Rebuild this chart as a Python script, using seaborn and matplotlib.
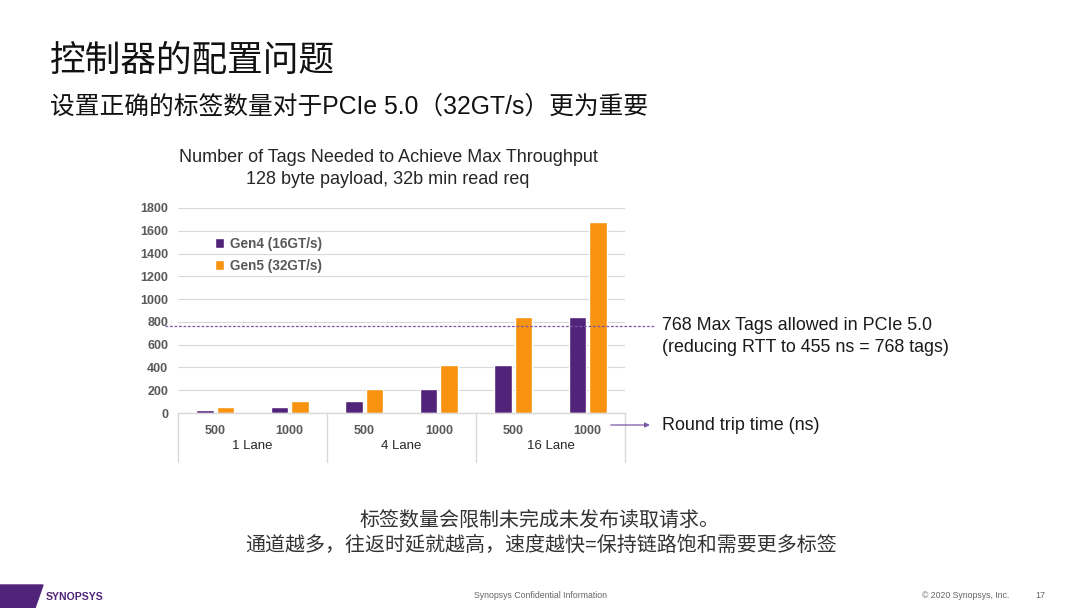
import matplotlib
matplotlib.use('Agg')
import matplotlib.pyplot as plt
import matplotlib.patches as mpatches
import seaborn as sns
import pandas as pd

# chart values
lanes = ['1 Lane', '4 Lane', '16 Lane']
rtt_labels = ['500', '1000']
gen4_tags = [27, 54, 108, 210, 420, 840]
gen5_tags = [54, 108, 210, 420, 840, 1680]
series_names = ['Gen4 (16GT/s)', 'Gen5 (32GT/s)']
max_tags = 768
y_ticks = [0, 200, 400, 600, 800, 1000, 1200, 1400, 1600, 1800]

slots = [f'{lane} {r}' for lane in lanes for r in rtt_labels]
df = pd.DataFrame({
    'slot': slots + slots,
    'tags': gen4_tags + gen5_tags,
    'gen': [series_names[0]] * len(slots) + [series_names[1]] * len(slots),
})

purple = '#51247A'
light_purple = '#7A58A8'
orange = '#F7930F'
grid_gray = '#D9D9D9'
tick_gray = '#595959'

sns.set_style('white')
plt.rcParams['font.family'] = ['Liberation Sans', 'Noto Sans CJK SC', 'DejaVu Sans']

fig = plt.figure(figsize=(10.8, 6.08), dpi=100)
W, H = 1080, 608

def fx(px):
    return px / W

def fy(py):
    return 1 - py / H

ax = fig.add_axes([fx(178), fy(413), fx(625) - fx(178), fy(208) - fy(413)])
sns.barplot(data=df, x='slot', y='tags', hue='gen', order=slots,
            palette=[purple, orange], width=0.55, gap=0.15, ax=ax,
            saturation=1, legend=True)

ax.set_xlim(-0.5, len(slots) - 0.5)
ax.set_ylim(0, 1800)
ax.set_yticks(y_ticks)
ax.set_yticklabels([str(t) for t in y_ticks], fontsize=9, fontweight='bold', color=tick_gray)
ax.set_xticks(range(len(slots)))
ax.set_xticklabels(rtt_labels * len(lanes), fontsize=9, fontweight='bold', color=tick_gray)
ax.tick_params(axis='both', length=0)
ax.tick_params(axis='x', pad=9)
ax.tick_params(axis='y', pad=7)
ax.set_xlabel('')
ax.set_ylabel('')
for s in ax.spines.values():
    s.set_visible(False)
ax.yaxis.grid(True, color=grid_gray, linewidth=0.8)
ax.set_axisbelow(True)

# category box below the axis
box_bottom = (413 - 462) / (413 - 208)
ax.plot([-0.5, len(slots) - 0.5], [0, 0], color=grid_gray, linewidth=1, clip_on=False)
trans = ax.get_xaxis_transform()
for xb in [-0.5, 1.5, 3.5, 5.5]:
    ax.plot([xb, xb], [0, box_bottom], color=grid_gray, linewidth=1,
            transform=trans, clip_on=False)
for i, lane in enumerate(lanes):
    ax.text(2 * i + 0.5, (413 - 446) / (413 - 208), lane, transform=trans,
            ha='center', va='center', fontsize=9.5, color='#262626')

# max tags dashed line
ax.axhline(max_tags, xmin=(165 - 178) / 447, xmax=(655 - 178) / 447,
           color=light_purple, linestyle=(0, (2.2, 1.4)), linewidth=0.9, clip_on=False)

# arrow to round trip label
ax.annotate('', xy=(1.062, -0.0585), xytext=(0.962, -0.0585), xycoords='axes fraction',
            arrowprops=dict(arrowstyle='-|>', color=light_purple, lw=0.9, mutation_scale=7),
            annotation_clip=False)

# legend
leg = ax.legend(loc='upper left', bbox_to_anchor=(0.055, 0.92), frameon=False,
                handlelength=0.7, handleheight=0.7, handletextpad=0.4,
                labelspacing=0.6, fontsize=9.8)
for t in leg.get_texts():
    t.set_color(tick_gray)
    t.set_fontweight('bold')

# chart title
fig.text(fx(388), fy(157), 'Number of Tags Needed to Achieve Max Throughput',
         ha='center', va='center', fontsize=13, color='#262626')
fig.text(fx(388), fy(180), '128 byte payload, 32b min read req',
         ha='center', va='center', fontsize=13, color='#262626')

# side annotations
fig.text(fx(662), fy(325), '768 Max Tags allowed in PCIe 5.0',
         ha='left', va='center', fontsize=12.9, color='#1a1a1a')
fig.text(fx(662), fy(347), '(reducing RTT to 455 ns = 768 tags)',
         ha='left', va='center', fontsize=12.9, color='#1a1a1a')
fig.text(fx(662), fy(425), 'Round trip time (ns)',
         ha='left', va='center', fontsize=12.9, color='#1a1a1a')

# slide titles
fig.text(fx(50), fy(61), '控制器的配置问题', ha='left', va='center',
         fontsize=25.7, color='#111111')
fig.text(fx(50), fy(107), '设置正确的标签数量对于PCIe 5.0（32GT/s）更为重要', ha='left',
         va='center', fontsize=17.8, color='#111111')

# bottom notes
fig.text(fx(540), fy(520), '标签数量会限制未完成未发布读取请求。', ha='center', va='center',
         fontsize=14.4, color='#333333')
fig.text(fx(541), fy(545), '通道越多，往返时延就越高，速度越快=保持链路饱和需要更多标签',
         ha='center', va='center', fontsize=14.4, color='#333333')

# footer
logo = mpatches.Polygon([(fx(0), fy(585)), (fx(43), fy(585)), (fx(35), fy(608)), (fx(0), fy(608))],
                        closed=True, transform=fig.transFigure, color=purple)
fig.patches.append(logo)
fig.text(fx(46), fy(597), 'SYNOPSYS', ha='left', va='center', fontsize=7.6,
         fontweight='bold', color=purple, family=['Liberation Sans Narrow', 'Liberation Sans'])
fig.text(fx(540), fy(595), 'Synopsys Confidential Information', ha='center', va='center',
         fontsize=6.3, color='#666666')
fig.text(fx(1009), fy(595), '© 2020 Synopsys, Inc.', ha='right', va='center',
         fontsize=6.3, color='#666666')
fig.text(fx(1040), fy(595), '17', ha='center', va='center', fontsize=6.5, color='#666666')

fig.savefig('out.png', dpi=100)
